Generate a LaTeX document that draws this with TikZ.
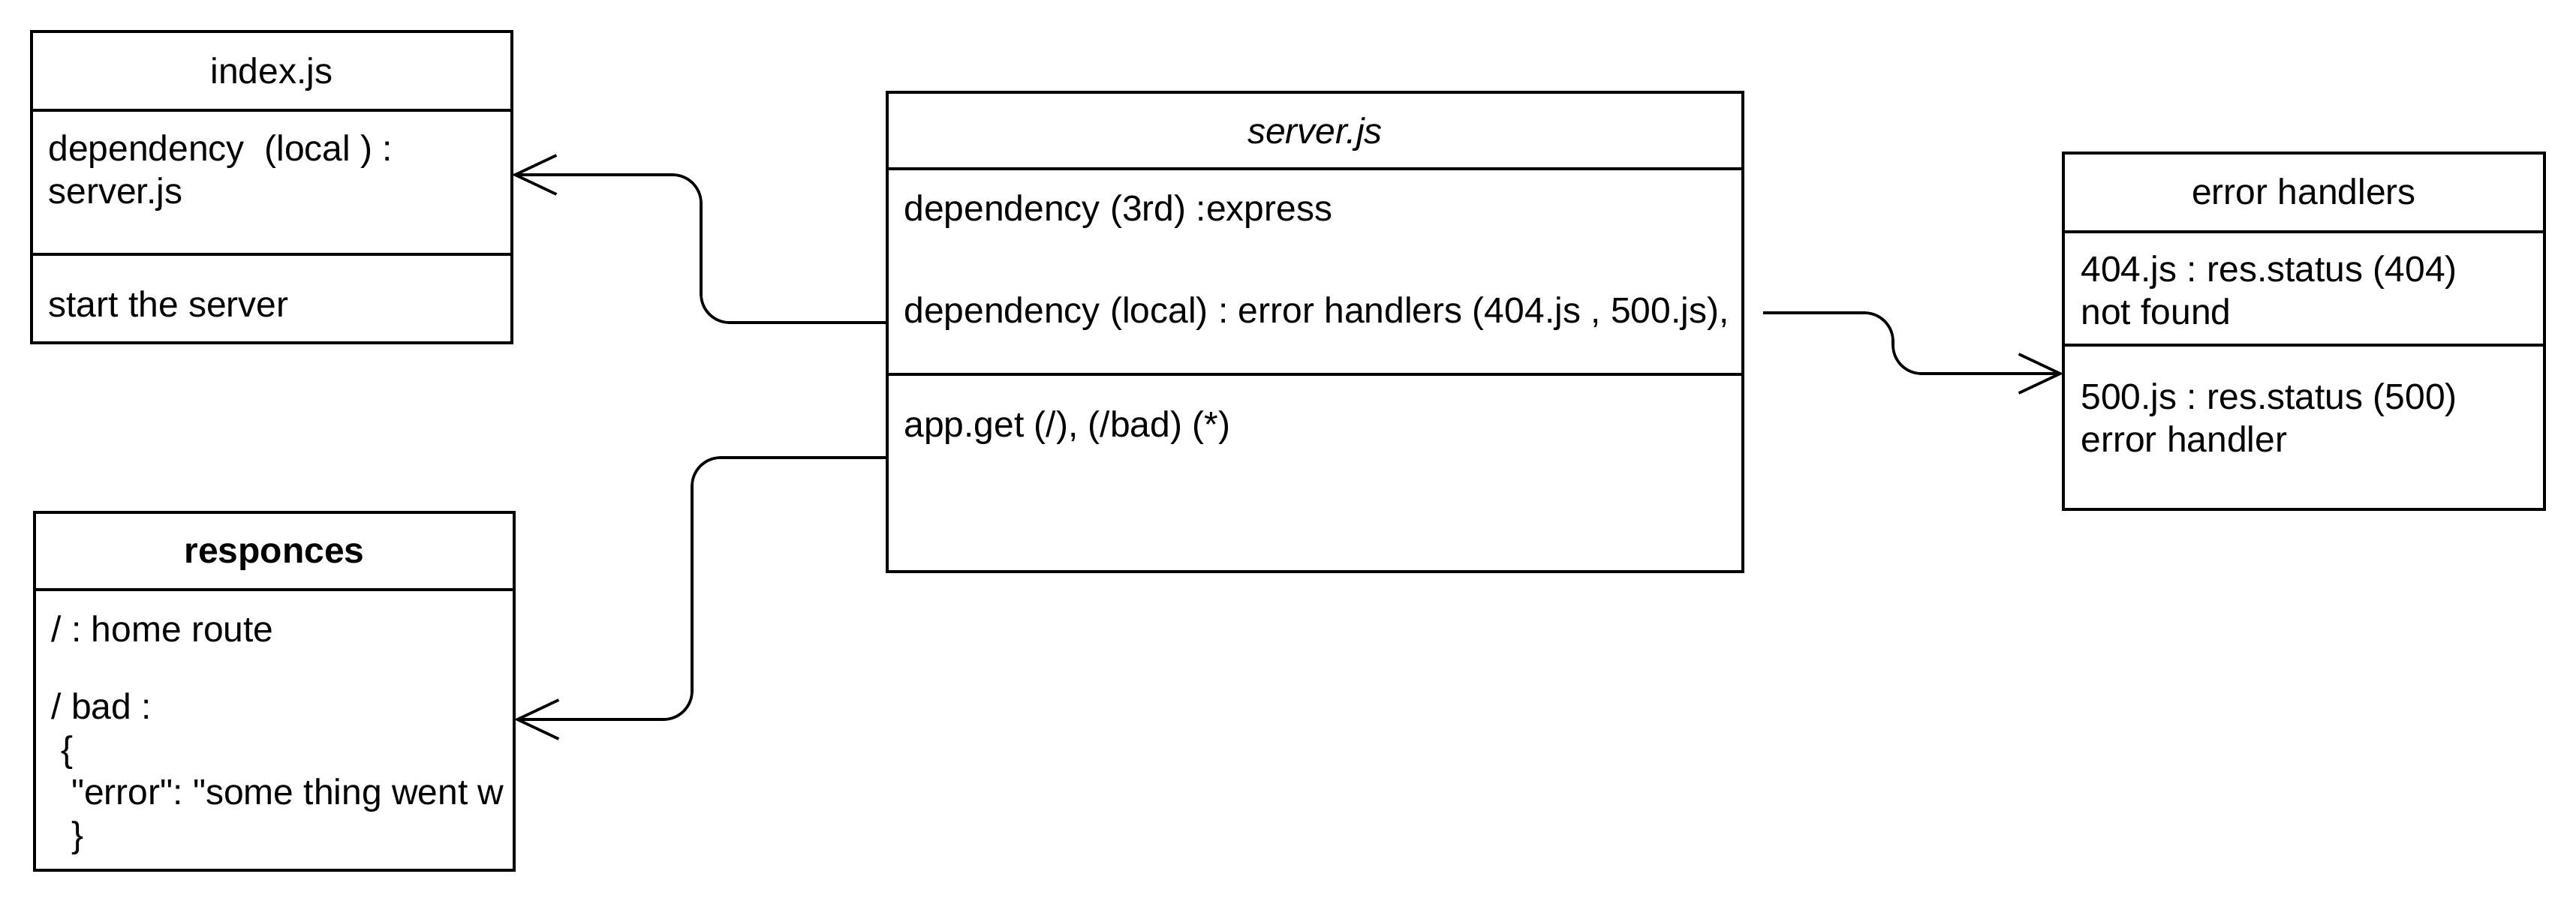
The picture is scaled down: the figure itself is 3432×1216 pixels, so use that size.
\documentclass[tikz,border=0pt]{standalone}
\usepackage{fontspec}
\setmainfont{Liberation Sans}
\usetikzlibrary{arrows.meta}
\frenchspacing
\begin{document}
\begin{tikzpicture}[x=0.5pt,y=-0.5pt,
  comp/.style={draw, line width=1.85pt, rectangle, inner sep=0pt, outer sep=0pt, anchor=north west},
  txt/.style={inner sep=0pt, anchor=base west, font=\fontsize{24}{28.8}\selectfont},
  ttl/.style={inner sep=0pt, anchor=base, font=\fontsize{24}{28.8}\selectfont},
  conn/.style={line width=1.85pt, rounded corners=19pt, -{Straight Barb[length=27.5pt,width=26pt]}}]
\useasboundingbox (0,0) rectangle (3432,1216);
\fill[white] (0,0) rectangle (3432,1216);

% index.js
\node[comp, minimum width=640*0.5pt, minimum height=105*0.5pt] (idxHead) at (42,42) {};
\node[comp, minimum width=640*0.5pt, minimum height=192*0.5pt] (idxAttr) at (42,147) {};
\node[comp, minimum width=640*0.5pt, minimum height=118*0.5pt] (idxOps) at (42,339) {};
\node[ttl] (idxT) at (362,111) {index.js};
\node[txt] (idxL1) at (64,214) {dependency\ \ (local ) :};
\node[txt] (idxL2) at (64,271) {server.js};
\node[txt] (idxL3) at (64,422) {start the server};

% server.js
\node[comp, minimum width=1140*0.5pt, minimum height=102*0.5pt] (srvHead) at (1182,123) {};
\node[comp, minimum width=1140*0.5pt, minimum height=274*0.5pt] (srvAttr) at (1182,225) {};
\node[comp, minimum width=1140*0.5pt, minimum height=263*0.5pt] (srvOps) at (1182,499) {};
\node[ttl] (srvT) at (1752,191) {\itshape server.js};
\node[txt] (srvL1) at (1204,294) {dependency (3rd) :express};
\node[txt] (srvL2) at (1204,430) {dependency (local) : error handlers (404.js , 500.js),};
\node[txt] (srvL3) at (1204,582) {app.get (/), (/bad) (*)};

% error handlers
\node[comp, minimum width=641*0.5pt, minimum height=105*0.5pt] (errHead) at (2749,204) {};
\node[comp, minimum width=641*0.5pt, minimum height=151*0.5pt] (errA) at (2749,309) {};
\node[comp, minimum width=641*0.5pt, minimum height=219*0.5pt] (errB) at (2749,460) {};
\node[ttl] (errT) at (3069.5,272) {error handlers};
\node[txt] (errL1) at (2772,375) {404.js : res.status (404)};
\node[txt] (errL2) at (2772,432) {not found};
\node[txt] (errL3) at (2772,545) {500.js : res.status (500)};
\node[txt] (errL4) at (2772,602) {error handler};

% responces
\node[comp, minimum width=639*0.5pt, minimum height=103*0.5pt] (resHead) at (46,683) {};
\node[comp, minimum width=639*0.5pt, minimum height=374*0.5pt] (resBody) at (46,786) {};
\node[ttl] (resT) at (365.5,750) {\bfseries responces};
\node[txt] (resL1) at (68,855) {/ : home route};
\node[txt] (resL2) at (68,958) {/ bad :};
\node[txt] (resL3) at (68,1015) {\ \{};
\node[txt] (resL4) at (68,1072) {\ \ \textquotedbl error\textquotedbl: \textquotedbl some thing went w};
\node[txt] (resL5) at (68,1129) {\ \ \}};

% connectors
\coordinate (c1s) at (srvAttr.west |- 0,430);
\coordinate (c1e) at (idxAttr.east |- 0,233);
\draw[conn] (c1s) -- (934,430) -- (934,233) -- (c1e);

\coordinate (c2s) at (srvOps.west |- 0,610);
\coordinate (c2e) at (resBody.east |- 0,959);
\draw[conn] (c2s) -- (922,610) -- (922,959) -- (c2e);

\coordinate (c3s) at (2349,417);
\coordinate (c3e) at (errB.west |- 0,498);
\draw[conn] (c3s) -- (2522,417) -- (2522,498) -- (c3e);
\end{tikzpicture}
\end{document}
